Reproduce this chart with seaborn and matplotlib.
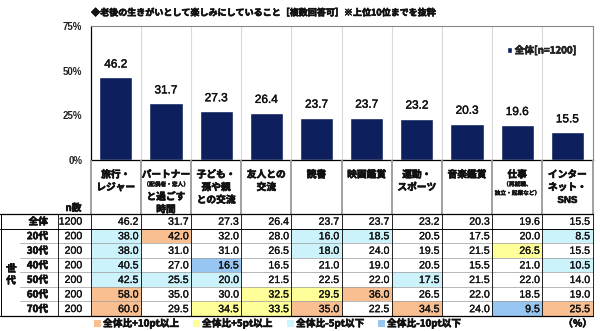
import numpy as np
import pandas as pd
import matplotlib
matplotlib.use("Agg")
import matplotlib.pyplot as plt
import matplotlib.patheffects as pe
import seaborn as sns
from matplotlib.colors import ListedColormap
from matplotlib.patches import Rectangle

# ---------------- data ----------------
categories = ["旅行・レジャー", "パートナーと過ごす時間", "子ども・孫や親との交流", "友人との交流",
              "読書", "映画鑑賞", "運動・スポーツ", "音楽鑑賞", "仕事", "インターネット・SNS"]
header_lines = [
    [("旅行・", "L"), ("レジャー", "L")],
    [("パートナー", "L"), ("（配偶者・恋人）", "S"), ("と過ごす", "L"), ("時間", "L")],
    [("子ども・", "L"), ("孫や親", "L"), ("との交流", "L")],
    [("友人との", "L"), ("交流", "L")],
    [("読書", "L")],
    [("映画鑑賞", "L")],
    [("運動・", "L"), ("スポーツ", "L")],
    [("音楽鑑賞", "L")],
    [("仕事", "L"), ("（再就職、", "S"), ("独立・起業など）", "S")],
    [("インター", "L"), ("ネット・", "L"), ("SNS", "L")],
]
total_label = "全体"
total_n = 1200
total_values = [46.2, 31.7, 27.3, 26.4, 23.7, 23.7, 23.2, 20.3, 19.6, 15.5]
age_groups = ["20代", "30代", "40代", "50代", "60代", "70代"]
age_n = [200, 200, 200, 200, 200, 200]
v20 = [38.0, 42.0, 32.0, 28.0, 16.0, 18.5, 20.5, 17.5, 20.0, 8.5]
v30 = [38.0, 31.0, 31.0, 26.5, 18.0, 24.0, 19.5, 21.5, 26.5, 15.5]
v40 = [40.5, 27.0, 16.5, 16.5, 21.0, 19.0, 20.5, 15.5, 21.0, 10.5]
v50 = [42.5, 25.5, 20.0, 21.5, 22.5, 22.0, 17.5, 21.5, 22.0, 14.0]
v60 = [58.0, 35.0, 30.0, 32.5, 29.5, 36.0, 26.5, 22.0, 18.5, 19.0]
v70 = [60.0, 29.5, 34.5, 33.5, 35.0, 22.5, 34.5, 24.0, 9.5, 25.5]
# highlight marks: 0 none, 1 +10pt, 2 +5pt, 3 -5pt, 4 -10pt
m20 = [3, 1, 0, 0, 3, 3, 0, 0, 0, 3]
m30 = [3, 0, 0, 0, 3, 0, 0, 0, 2, 0]
m40 = [3, 0, 4, 0, 0, 0, 0, 0, 0, 3]
m50 = [3, 3, 3, 0, 0, 0, 3, 0, 0, 0]
m60 = [1, 0, 0, 2, 2, 1, 0, 0, 0, 0]
m70 = [1, 0, 2, 2, 1, 0, 1, 0, 4, 1]
legend_labels = ["全体比+10pt以上", "全体比+5pt以上", "全体比-5pt以下", "全体比-10pt以下"]
series_label = "全体[n=1200]"
title = "◆老後の生きがいとして楽しみにしていること［複数回答可］※上位10位までを抜粋"

# ---------------- style ----------------
NAVY = "#0E1F5E"
ORANGE = "#F9BF90"
YELLOW = "#FFFF99"
CYAN = "#CCF2FC"
BLUE = "#98C6F2"
mark_colors = ["white", ORANGE, YELLOW, CYAN, BLUE]
INK = "#111111"

sns.set_theme(style="white")
plt.rcParams["font.family"] = ["Noto Sans CJK JP", "DejaVu Sans"]
JP = ["Noto Sans CJK JP", "DejaVu Sans"]
NUM = ["Liberation Sans", "Noto Sans CJK JP"]
BOLD = [pe.withStroke(linewidth=0.45, foreground=INK)]
BOLD_S = [pe.withStroke(linewidth=0.25, foreground=INK)]

W, H = 600, 331
fig = plt.figure(figsize=(6.0, 3.31), dpi=100)
fig.patch.set_facecolor("white")

X0, X1 = 90.7, 592.5
colw = (X1 - X0) / 10
Y_TOP, Y_ZERO = 26, 160
T_TOP, T_BOT = 214, 316
rowh = (T_BOT - T_TOP) / 7

# ---------------- bar chart ----------------
ax = fig.add_axes([X0 / W, 1 - Y_ZERO / H, (X1 - X0) / W, (Y_ZERO - Y_TOP) / H])
df = pd.DataFrame({"category": categories, "value": total_values})
sns.barplot(data=df, x="category", y="value", color=NAVY, saturation=1,
            width=0.66, ax=ax, label=series_label)
ax.set_xlim(-0.5, 9.5)
ax.set_ylim(0, 75)
ax.set_yticks([0, 25, 50, 75])
ax.set_yticklabels(["0%", "25%", "50%", "75%"], fontfamily=NUM, fontweight="bold",
                   fontsize=7, color="#222222")
ax.tick_params(axis="y", length=0, pad=6)
ax.set_xticks([])
ax.set_xlabel("")
ax.set_ylabel("")
for b in np.arange(0.5, 9.5, 1.0):
    ax.axvline(b, color="#D9D9D9", lw=0.8, zorder=0)
for s in ["top", "right"]:
    ax.spines[s].set_color("#888888")
    ax.spines[s].set_linewidth(0.8)
for s in ["left", "bottom"]:
    ax.spines[s].set_color("black")
    ax.spines[s].set_linewidth(0.9)
labels = ax.bar_label(ax.containers[0], fmt="%.1f", padding=5, fontsize=8.5,
                      fontfamily=NUM, color=INK)
for t in labels:
    t.set_path_effects([pe.withStroke(linewidth=0.3, foreground=INK)])
leg = ax.legend(loc="upper right", bbox_to_anchor=(0.985, 0.92), frameon=False,
                handlelength=0.5, handleheight=0.5, handletextpad=0.3,
                prop={"family": JP, "weight": "bold", "size": 7})
for t in leg.get_texts():
    t.set_path_effects(BOLD)

# ---------------- table cells (heatmap) ----------------
tab = fig.add_axes([X0 / W, 1 - T_BOT / H, (X1 - X0) / W, (T_BOT - T_TOP) / H])
row_names = [total_label] + age_groups
vals = pd.DataFrame([total_values, v20, v30, v40, v50, v60, v70],
                    index=row_names, columns=categories)
marks = pd.DataFrame([[0] * 10, m20, m30, m40, m50, m60, m70],
                     index=row_names, columns=categories)
sns.heatmap(marks, cmap=ListedColormap(mark_colors), vmin=-0.5, vmax=4.5,
            cbar=False, ax=tab, xticklabels=False, yticklabels=False)
for i in range(vals.shape[0]):
    for j in range(vals.shape[1]):
        tab.text(j + 0.95, i + 0.53, f"{vals.iat[i, j]:.1f}", ha="right", va="center",
                 fontsize=7.6, fontfamily=NUM, color=INK,
                 path_effects=[pe.withStroke(linewidth=0.2, foreground=INK)])
tab.set_xlabel("")
tab.set_ylabel("")

# ---------------- overlay (pixel coordinates) ----------------
ov = fig.add_axes([0, 0, 1, 1], zorder=5)
ov.set_xlim(0, W)
ov.set_ylim(H, 0)
ov.axis("off")

ov.text(263, 13, title, ha="center", va="center", fontsize=6.5, fontweight="bold",
        fontfamily=JP, color=INK, path_effects=BOLD)

# header separators
for k in range(11):
    x = X0 + k * colw
    ov.plot([x, x], [Y_ZERO, T_TOP], color="#9A9A9A", lw=1.3, solid_capstyle="butt")

# header labels
delta = {("L", "L"): 12.7, ("L", "S"): 9.5, ("S", "S"): 8.7, ("S", "L"): 12.7}
for j, lines in enumerate(header_lines):
    cx = X0 + (j + 0.5) * colw
    y = 174.5
    prev = None
    for text, kind in lines:
        if prev is not None:
            y += delta[(prev, kind)]
        if kind == "L":
            ov.text(cx, y, text, ha="center", va="center", fontsize=7, fontweight="bold",
                    fontfamily=JP if text != "SNS" else NUM, color=INK, path_effects=BOLD)
        else:
            ov.text(cx, y, text, ha="center", va="center", fontsize=4.1, fontweight="bold",
                    fontfamily=JP, color=INK, path_effects=BOLD_S)
        prev = kind

ov.text(73.5, 208, "n数", ha="center", va="center", fontsize=7, fontweight="bold",
        fontfamily=JP, color=INK, path_effects=BOLD)

# table lines
ov.plot([0, X1], [T_TOP, T_TOP], color="black", lw=0.9)
ov.plot([0, X1], [T_TOP + rowh, T_TOP + rowh], color="black", lw=0.7)
for i in range(2, 7):
    y = T_TOP + i * rowh
    ov.plot([20, X1], [y, y], color="#9A9A9A", lw=0.5)
ov.plot([0, X1], [T_BOT, T_BOT], color="black", lw=0.9)
ov.plot([0.5, 0.5], [T_TOP, T_BOT], color="black", lw=0.7)
ov.plot([58, 58], [T_TOP, T_BOT], color="black", lw=0.6)
for k in range(11):
    x = X0 + k * colw
    ov.plot([x, x], [T_TOP, T_BOT], color="black", lw=0.6)

# row labels and n
names = [total_label] + age_groups
ns = [total_n] + age_n
for i, (nm, n) in enumerate(zip(names, ns)):
    yc = T_TOP + (i + 0.5) * rowh + 0.3
    ov.text(48, yc, nm, ha="right", va="center", fontsize=7, fontweight="bold",
            fontfamily=JP, color=INK, path_effects=BOLD)
    ov.text(82, yc, str(n), ha="right", va="center", fontsize=7.6,
            fontfamily=NUM, color=INK,
            path_effects=[pe.withStroke(linewidth=0.2, foreground=INK)])
ov.text(11, 274.5, "世\n代", ha="center", va="center", fontsize=7, fontweight="bold",
        fontfamily=JP, linespacing=1.25, color=INK, path_effects=BOLD)

# bottom legend
leg_x = [94, 193, 287, 378]
for lx, lab, col in zip(leg_x, legend_labels, mark_colors[1:]):
    ov.add_patch(Rectangle((lx, 320), 7, 7, facecolor=col, edgecolor="none"))
    ov.text(lx + 9, 323.5, lab, ha="left", va="center", fontsize=7, fontweight="bold",
            fontfamily=JP, color=INK, path_effects=BOLD)
ov.text(592, 323.5, "（%）", ha="right", va="center", fontsize=7, fontweight="bold",
        fontfamily=JP, color=INK, path_effects=BOLD)

fig.savefig("out.png", dpi=100, facecolor="white")
